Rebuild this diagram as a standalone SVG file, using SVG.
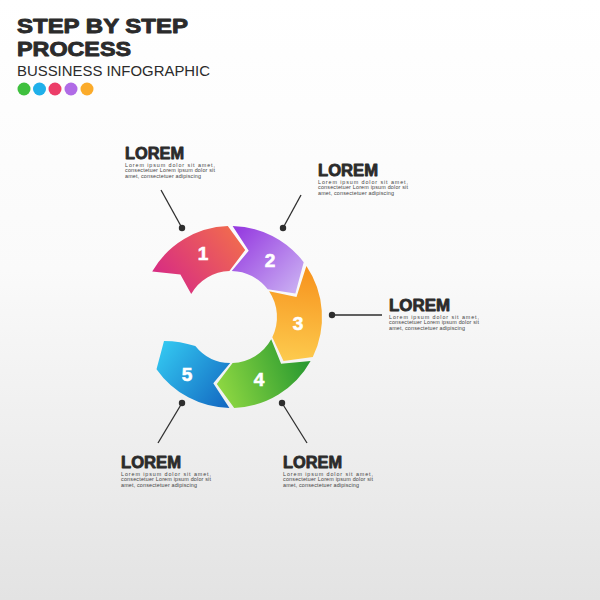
<svg xmlns="http://www.w3.org/2000/svg" width="600" height="600" viewBox="0 0 600 600">
<style>
.ttl{font-family:"Liberation Sans",Arial,sans-serif;font-weight:bold;fill:#2b2b2b;stroke:#2b2b2b;stroke-width:0.9;stroke-linejoin:round}
.sub{font-family:"Liberation Sans",Arial,sans-serif;fill:#2b2b2b}
.hd{font-family:"Liberation Sans",Arial,sans-serif;font-weight:bold;font-size:16px;fill:#2b2b2b;stroke:#2b2b2b;stroke-width:0.8;stroke-linejoin:round}
.bd{font-family:"Liberation Sans",Arial,sans-serif;font-size:5.4px;fill:#444444}
.num{font-family:"Liberation Sans",Arial,sans-serif;font-weight:bold;font-size:19px;fill:#ffffff;stroke:#ffffff;stroke-width:0.6;text-anchor:middle}
.ln{stroke:#2e2e2e;stroke-width:1.3;fill:none}
.dot{fill:#2e2e2e}
</style>
<defs>
<linearGradient id="bg" x1="0" y1="0" x2="0" y2="1">
<stop offset="0" stop-color="#ffffff"/>
<stop offset="0.45" stop-color="#fafafa"/>
<stop offset="1" stop-color="#e3e3e3"/>
</linearGradient>
<linearGradient id="g1" gradientUnits="userSpaceOnUse" x1="170" y1="290" x2="245" y2="230">
<stop offset="0" stop-color="#d82d82"/>
<stop offset="1" stop-color="#f3704a"/>
</linearGradient>
<linearGradient id="g2" gradientUnits="userSpaceOnUse" x1="235" y1="232" x2="300" y2="292">
<stop offset="0" stop-color="#963ce0"/>
<stop offset="1" stop-color="#cbb2f3"/>
</linearGradient>
<linearGradient id="g3" gradientUnits="userSpaceOnUse" x1="300" y1="268" x2="290" y2="362">
<stop offset="0" stop-color="#f7931e"/>
<stop offset="1" stop-color="#fdcb4e"/>
</linearGradient>
<linearGradient id="g4" gradientUnits="userSpaceOnUse" x1="305" y1="360" x2="218" y2="390">
<stop offset="0" stop-color="#2a9a30"/>
<stop offset="1" stop-color="#8fd842"/>
</linearGradient>
<linearGradient id="g5" gradientUnits="userSpaceOnUse" x1="160" y1="348" x2="232" y2="405">
<stop offset="0" stop-color="#33c6f0"/>
<stop offset="1" stop-color="#1266c0"/>
</linearGradient>
</defs>
<rect width="600" height="600" fill="url(#bg)"/>

<g id="title">
<text class="ttl" x="17" y="33" font-size="20" textLength="171" lengthAdjust="spacingAndGlyphs">STEP BY STEP</text>
<text class="ttl" x="17" y="56" font-size="20" textLength="114" lengthAdjust="spacingAndGlyphs">PROCESS</text>
<text class="sub" x="17" y="76" font-size="14" textLength="193" lengthAdjust="spacingAndGlyphs">BUSSINESS INFOGRAPHIC</text>
<circle cx="24" cy="89" r="6.5" fill="#3fc03e"/>
<circle cx="39.5" cy="89" r="6.5" fill="#1fb0ea"/>
<circle cx="55" cy="89" r="6.5" fill="#ec3d68"/>
<circle cx="71" cy="89" r="6.5" fill="#b06be6"/>
<circle cx="87" cy="89" r="6.5" fill="#fbab2a"/>
</g>

<g id="connectors">
<line class="ln" x1="161" y1="190" x2="182" y2="228"/>
<circle class="dot" cx="182" cy="228" r="3.2"/>
<line class="ln" x1="301" y1="195" x2="283" y2="228"/>
<circle class="dot" cx="283" cy="228" r="3.2"/>
<line class="ln" x1="332" y1="315" x2="382" y2="315"/>
<circle class="dot" cx="332" cy="315" r="3.2"/>
<line class="ln" x1="182" y1="403" x2="158" y2="443"/>
<circle class="dot" cx="182" cy="403" r="3.2"/>
<line class="ln" x1="282" y1="403" x2="307" y2="443"/>
<circle class="dot" cx="282" cy="403" r="3.2"/>
</g>

<g id="step1">
<path d="M152.2,271.5 A91,91 0 0 1 227.8,226.1 L245.2,250 L229.4,271 A46,46 0 0 0 191.2,294 L180.4,274.6 Z" fill="url(#g1)"/>
<text class="num" x="203" y="260">1</text>
</g>
<g id="step2">
<path d="M232.6,226 A91,91 0 0 1 303.7,262.2 L295.4,293.6 L267.7,289.3 A46,46 0 0 0 231.8,271 L248.7,250.8 Z" fill="url(#g2)"/>
<text class="num" x="270" y="267">2</text>
</g>
<g id="step3">
<path d="M306.4,266.1 A91,91 0 0 1 312.8,356.9 L283.5,361 L272.3,337.2 A46,46 0 0 0 269.1,291.3 L296.5,297 Z" fill="url(#g3)"/>
<text class="num" x="298" y="330">3</text>
</g>
<g id="step4">
<path d="M310.6,361.1 A91,91 0 0 1 234.2,407.9 L216.8,384 L232.6,363 A46,46 0 0 0 271.2,339.3 L281.1,363.7 Z" fill="url(#g4)"/>
<text class="num" x="259" y="386">4</text>
</g>
<g id="step5">
<path d="M229.4,408 L213.3,383.2 L230.2,363 A46,46 0 0 1 195.3,345.9 C185,343 175,341 164,341 L156.5,369.2 A91,91 0 0 0 229.4,408 Z" fill="url(#g5)"/>
<text class="num" x="187" y="381">5</text>
</g>

<g id="label1">
<text class="hd" x="125" y="159" textLength="59" lengthAdjust="spacingAndGlyphs">LOREM</text>
<text class="bd" x="125" y="166.5" textLength="90" lengthAdjust="spacing">Lorem ipsum dolor sit amet,</text>
<text class="bd" x="125" y="172" textLength="90" lengthAdjust="spacing">consectetuer Lorem ipsum dolor sit</text>
<text class="bd" x="125" y="177.5" textLength="76" lengthAdjust="spacing">amet, consectetuer adipiscing</text>
</g>
<g id="label2">
<text class="hd" x="318" y="176" textLength="60" lengthAdjust="spacingAndGlyphs">LOREM</text>
<text class="bd" x="318" y="183.5" textLength="90" lengthAdjust="spacing">Lorem ipsum dolor sit amet,</text>
<text class="bd" x="318" y="189" textLength="90" lengthAdjust="spacing">consectetuer Lorem ipsum dolor sit</text>
<text class="bd" x="318" y="194.5" textLength="76" lengthAdjust="spacing">amet, consectetuer adipiscing</text>
</g>
<g id="label3">
<text class="hd" x="389" y="311" textLength="61" lengthAdjust="spacingAndGlyphs">LOREM</text>
<text class="bd" x="389" y="318.5" textLength="90" lengthAdjust="spacing">Lorem ipsum dolor sit amet,</text>
<text class="bd" x="389" y="324" textLength="90" lengthAdjust="spacing">consectetuer Lorem ipsum dolor sit</text>
<text class="bd" x="389" y="329.5" textLength="76" lengthAdjust="spacing">amet, consectetuer adipiscing</text>
</g>
<g id="label4">
<text class="hd" x="121" y="468" textLength="60" lengthAdjust="spacingAndGlyphs">LOREM</text>
<text class="bd" x="121" y="475.5" textLength="90" lengthAdjust="spacing">Lorem ipsum dolor sit amet,</text>
<text class="bd" x="121" y="481" textLength="90" lengthAdjust="spacing">consectetuer Lorem ipsum dolor sit</text>
<text class="bd" x="121" y="486.5" textLength="76" lengthAdjust="spacing">amet, consectetuer adipiscing</text>
</g>
<g id="label5">
<text class="hd" x="283" y="468" textLength="59" lengthAdjust="spacingAndGlyphs">LOREM</text>
<text class="bd" x="283" y="475.5" textLength="90" lengthAdjust="spacing">Lorem ipsum dolor sit amet,</text>
<text class="bd" x="283" y="481" textLength="90" lengthAdjust="spacing">consectetuer Lorem ipsum dolor sit</text>
<text class="bd" x="283" y="486.5" textLength="76" lengthAdjust="spacing">amet, consectetuer adipiscing</text>
</g>
</svg>
